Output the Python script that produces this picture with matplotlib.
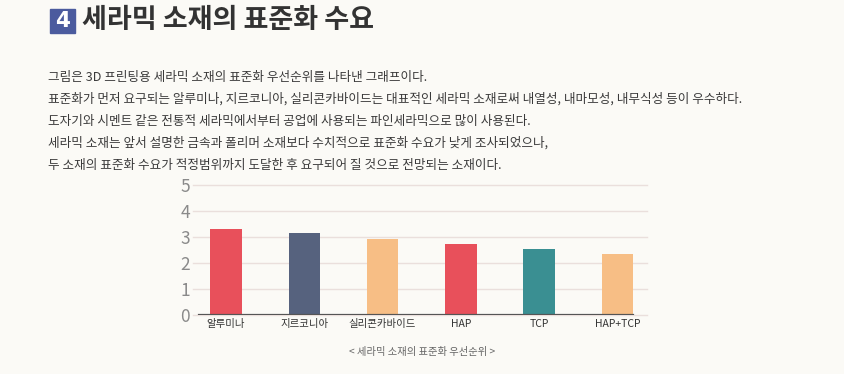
import matplotlib.pyplot as plt
from matplotlib.patches import Rectangle

plt.rcParams['font.family'] = ['Noto Sans CJK KR', 'DejaVu Sans']

# data
materials = ['알루미나', '지르코니아', '실리콘카바이드', 'HAP', 'TCP', 'HAP+TCP']
priority = [3.31, 3.14, 2.92, 2.73, 2.55, 2.36]
barColors = ['#e8505b', '#56627e', '#f7be85', '#e8505b', '#3a8f92', '#f7be85']
yTicks = [0, 1, 2, 3, 4, 5]

title = '세라믹 소재의 표준화 수요'
bodyLines = [
    '그림은 3D 프린팅용 세라믹 소재의 표준화 우선순위를 나타낸 그래프이다.',
    '표준화가 먼저 요구되는 알루미나, 지르코니아, 실리콘카바이드는 대표적인 세라믹 소재로써 내열성, 내마모성, 내무식성 등이 우수하다.',
    '도자기와 시멘트 같은 전통적 세라믹에서부터 공업에 사용되는 파인세라믹으로 많이 사용된다.',
    '세라믹 소재는 앞서 설명한 금속과 폴리머 소재보다 수치적으로 표준화 수요가 낮게 조사되었으나,',
    '두 소재의 표준화 수요가 적정범위까지 도달한 후 요구되어 질 것으로 전망되는 소재이다.',
]
caption = '< 세라믹 소재의 표준화 우선순위 >'

W, H = 845, 374
bg = '#fbfaf6'
fig = plt.figure(figsize=(W / 100, H / 100), dpi=100, facecolor=bg)

# heading
fig.patches.append(Rectangle((50 / W, 1 - 33 / H), 25 / W, 24 / H,
                             transform=fig.transFigure, color='#4b5b9e'))
fig.text(62.5 / W, 1 - 21 / H, '4', color='white', fontsize=15.5, fontweight='bold',
         ha='center', va='center', family='DejaVu Sans')
fig.text(82 / W, 1 - 20 / H, title, fontsize=19.5, fontweight='bold', color='#333333',
         ha='left', va='center')

# body text
for i, line in enumerate(bodyLines):
    fig.text(48 / W, 1 - (77 + 22 * i) / H, line, fontsize=9.1, color='#3a3a3a',
             ha='left', va='center')

# chart
ax = fig.add_axes([193 / W, 1 - 315 / H, 454 / W, 130 / H])
ax.set_facecolor(bg)
x = list(range(len(materials)))
ax.bar(x, priority, width=0.4, color=barColors, zorder=3)
ax.set_xlim(-0.42, len(materials) - 1 + 0.377)
ax.set_ylim(0, 5)
ax.set_yticks(yTicks)
ax.yaxis.grid(True, color='#eadfdc', linewidth=1, zorder=0)
for t in ax.get_ygridlines():
    t.set_clip_on(False)
ax.axhline(0, xmin=0.013, xmax=0.969, color='#555555', linewidth=1.6, zorder=4)
ax.set_xticks(x)
ax.set_xticklabels(materials, fontsize=7.5, color='#333333')
ax.tick_params(axis='y', labelsize=12.5, labelcolor='#8a8a8a', length=0, pad=2)
ax.tick_params(axis='x', length=0, pad=3)
for lab in ax.get_yticklabels():
    lab.set_fontweight('light')
for s in ax.spines.values():
    s.set_visible(False)

fig.text(422 / W, 1 - 352 / H, caption, fontsize=7.4, color='#666666',
         ha='center', va='center')

fig.savefig('out.png', dpi=100, facecolor=bg)
